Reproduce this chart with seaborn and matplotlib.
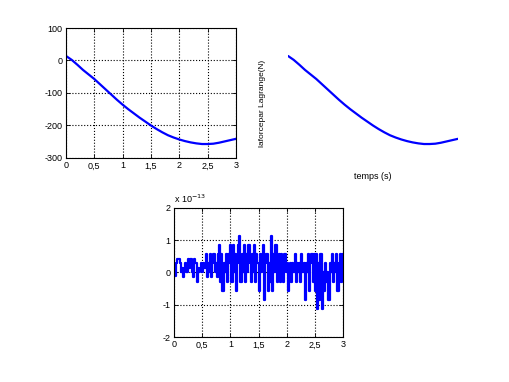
import numpy as np
import matplotlib
matplotlib.use("Agg")
import matplotlib.pyplot as plt
import seaborn as sns

# force curve, read every 0.1 s
t_force = [0.0, 0.1, 0.2, 0.3, 0.4, 0.5, 0.6, 0.7, 0.8, 0.9, 1.0,
           1.1, 1.2, 1.3, 1.4, 1.5, 1.6, 1.7, 1.8, 1.9, 2.0,
           2.1, 2.2, 2.3, 2.4, 2.5, 2.6, 2.7, 2.8, 2.9, 3.0]
force = [14, 2, -13, -29, -43, -57, -73, -89, -105, -121, -136,
         -150, -163, -176, -188, -200, -211, -221, -230, -237, -243,
         -248, -252, -255, -257, -257, -256, -253, -249, -245, -241]

# difference signal (units of 1e-13), read every 0.02 s
t_err = [round(i * 0.02, 2) for i in range(151)]
err_e13 = [0.0, -0.1, 0.28, 0.43, 0.43, 0.28, 0.0, 0.14, -0.14, 0.14,
           0.28, 0.0, 0.43, 0.14, 0.43, 0.43, 0.0, -0.14, 0.43, 0.28,
           -0.28, 0.14, 0.0, 0.14, 0.28, 0.0, 0.28, 0.14, 0.57, -0.14,
           0.28, 0.0, 0.57, -0.14, 0.28, 0.57, 0.0, 0.28, -0.14, 0.57,
           0.85, -0.28, 0.57, -0.57, 0.28, 0.0, 0.57, -0.28, 0.57, 0.28,
           0.85, -0.28, 0.85, 0.0, 0.57, -0.57, 0.28, 0.85, 1.14, -0.28,
           0.57, 0.0, 0.85, -0.28, 0.57, 0.0, 0.85, 0.28, -0.28, 0.57,
           0.0, 0.85, -0.28, 0.57, 0.28, -0.57, 0.57, 0.0, 0.28, 0.85,
           -0.85, 0.28, 0.57, -0.57, 0.28, -0.28, 1.14, -0.57, 0.57, 0.0,
           0.85, -0.28, 0.28, 0.57, -0.28, 0.57, 0.0, -0.28, 0.57, 0.0,
           0.28, -0.57, 0.0, 0.28, -0.28, 0.28, 0.0, 0.57, -0.28, 0.28,
           0.0, 0.28, -0.28, 0.57, 0.0, 0.28, -0.85, 0.28, 0.0, 0.57,
           -0.57, 0.28, 0.57, -0.28, 0.57, -0.57, 0.57, -1.14, 0.28, -0.85,
           0.57, -1.14, 0.0, -0.57, 0.28, -0.28, 0.0, -0.85, 0.28, 0.0,
           0.57, -0.28, 0.28, 0.0, 0.57, -0.57, 0.28, 0.57, -0.28, 0.57,
           0.0]

x_ticks = [0, 0.5, 1, 1.5, 2, 2.5, 3]
x_ticklabels = ["0", "0,5", "1", "1,5", "2", "2,5", "3"]
force_yticks = [-300, -200, -100, 0, 100]
err_yticks = [-2, -1, 0, 1, 2]

sns.set_theme(style="white")
plt.rcParams["font.family"] = ["Liberation Sans", "DejaVu Sans"]
plt.rcParams["axes.unicode_minus"] = False
plt.rcParams["text.color"] = "black"
plt.rcParams["axes.labelcolor"] = "black"
plt.rcParams["xtick.color"] = "black"
plt.rcParams["ytick.color"] = "black"
fs = 6.5


def matlab_axes(ax, yticks):
    ax.set_xlim(0, 3)
    ax.set_xticks(x_ticks)
    ax.set_xticklabels(x_ticklabels)
    ax.set_yticks(yticks)
    ax.set_ylim(yticks[0], yticks[-1])
    ax.grid(True, color="black", linestyle=":", linewidth=0.8)
    for s in ax.spines.values():
        s.set_visible(True)
        s.set_color("black")
        s.set_linewidth(0.8)
    ax.tick_params(direction="in", length=3, width=0.6, labelsize=fs,
                   colors="black", top=True, right=True, bottom=True,
                   left=True, pad=2.5)
    ax.set_xlabel("")
    ax.set_ylabel("")


fig = plt.figure(figsize=(5.1, 3.82), dpi=100)
ax1 = fig.add_axes([0.1294, 0.5864, 0.3333, 0.3403])
ax2 = fig.add_axes([0.5647, 0.5864, 0.3333, 0.3403])
ax3 = fig.add_axes([0.3412, 0.1178, 0.3314, 0.3377])

sns.lineplot(x=t_force, y=force, ax=ax1, color="blue", lw=1.6, estimator=None)
matlab_axes(ax1, force_yticks)

sns.lineplot(x=t_force, y=force, ax=ax2, color="blue", lw=1.6, estimator=None)
ax2.set_xlim(0, 3)
ax2.set_ylim(-300, 100)
for s in ax2.spines.values():
    s.set_visible(False)
ax2.set_xticks([])
ax2.set_yticks([])
ax2.set_xlabel("temps (s)", fontsize=fs)
ax2.set_ylabel("laforcepar Lagrange(N)", fontsize=6)
ax2.xaxis.set_label_coords(0.5, -0.11)
ax2.yaxis.set_label_coords(-0.13, 0.42)

sns.lineplot(x=t_err, y=err_e13, ax=ax3, color="blue", lw=1.6, estimator=None,
             drawstyle="steps-post")
matlab_axes(ax3, err_yticks)
ax3.text(0.0, 1.02, r"x 10$^{-13}$", transform=ax3.transAxes,
         fontsize=fs, ha="left", va="bottom")

fig.savefig("out.png", dpi=100)
